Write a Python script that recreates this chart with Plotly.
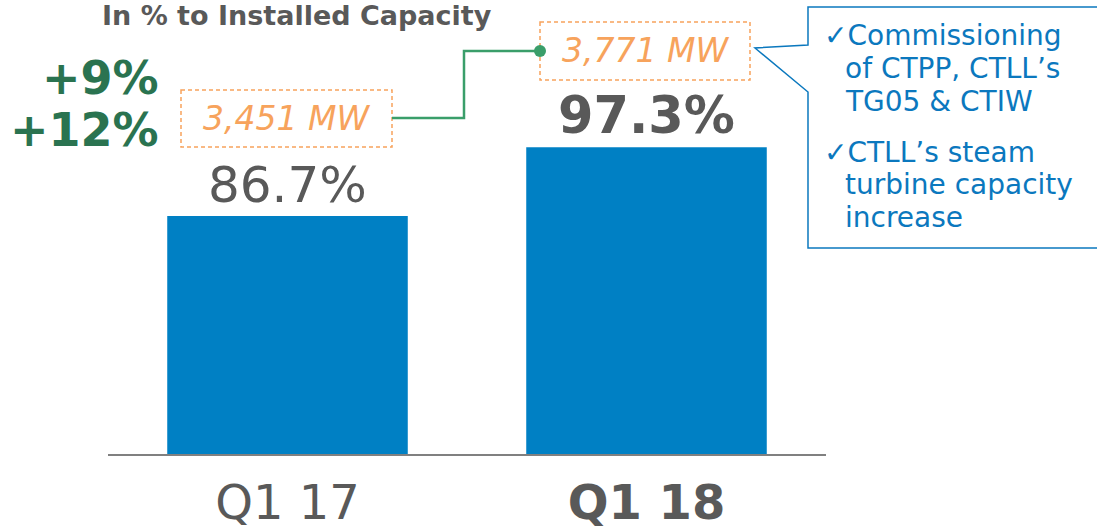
import plotly.graph_objects as go

# ---- data ----
categories = ["Q1 17", "Q1 18"]
tick_labels = ["Q1 17", "<b>Q1 18</b>"]
availability = [86.7, 97.3]
bar_labels = ["86.7%", "<b>97.3%</b>"]
capacity_labels = ["3,451 MW", "3,771 MW"]
growth_labels = ["+9%", "+12%"]
title_text = "In % to Installed Capacity"
callout_lines = [["\u2713Commissioning", "of CTPP, CTLL\u2019s", "TG05 & CTIW"],
                 ["\u2713CTLL\u2019s steam", "turbine capacity", "increase"]]

W, H = 1097, 530
AX_Y = 454                # axis line (px)
L = 108
R = W - 826
T = 0
B = H - AX_Y
PW, PH = W - L - R, H - T - B
UNIT = 6.486              # px per percentage point
Y0 = 50
Y1 = Y0 + PH / UNIT


def px(x):  # screen x -> paper
    return (x - L) / PW


def py(y):  # screen y -> paper
    return (AX_Y - y) / PH


FONT = "DejaVu Sans"
GRAY = "#595959"
BLUE = "#0080C4"
ORANGE = "#F7A35C"
GREEN_T = "#2A7350"
GREEN_L = "#3A9E6A"
CALL = "#0B78BE"

fig = go.Figure()
fig.add_trace(go.Bar(x=categories, y=availability, marker_color=BLUE,
                     marker_line_width=0, hoverinfo="skip"))

ann = []
shapes = []

# bar value labels
for c, v, t, s in zip(categories, availability, bar_labels, [50, 51]):
    ann.append(dict(x=c, y=v, xref="x", yref="y", text=t, showarrow=False,
                    yanchor="bottom", xanchor="center", yshift=0,
                    font=dict(family=FONT, size=s, color=GRAY)))

# title
ann.append(dict(x=px(297), y=py(15), xref="paper", yref="paper", text="<b>%s</b>" % title_text,
                showarrow=False, xanchor="center", yanchor="middle",
                font=dict(family=FONT, size=27, color=GRAY)))

# growth labels
for t, yy in zip(growth_labels, [78, 130]):
    ann.append(dict(x=px(161), y=py(yy), xref="paper", yref="paper", text="<b>%s</b>" % t,
                    showarrow=False, xanchor="right", yanchor="middle",
                    font=dict(family=FONT, size=46, color=GREEN_T)))

# capacity boxes
boxes = [(181, 90, 392, 147), (540, 22, 750, 80)]
for (x0, y0, x1, y1), t in zip(boxes, capacity_labels):
    shapes.append(dict(type="rect", xref="paper", yref="paper",
                       x0=px(x0), x1=px(x1), y0=py(y0), y1=py(y1),
                       line=dict(color=ORANGE, width=1.5, dash="4px,3px")))
    ann.append(dict(x=px((x0 + x1) / 2), y=py((y0 + y1) / 2), xref="paper", yref="paper",
                    text="<i>%s</i>" % t, showarrow=False, xanchor="center", yanchor="middle",
                    font=dict(family=FONT, size=33, color=ORANGE)))

# green connector
pts = [(392, 118), (464, 118), (464, 51), (540, 51)]
path = "M " + " L ".join("%f,%f" % (px(a), py(b)) for a, b in pts)
shapes.append(dict(type="path", xref="paper", yref="paper", path=path,
                   line=dict(color=GREEN_L, width=2.5)))
shapes.append(dict(type="circle", xref="paper", yref="paper",
                   x0=px(534), x1=px(546), y0=py(45), y1=py(57),
                   fillcolor=GREEN_L, line=dict(color=GREEN_L, width=0)))

# callout box
cpts = [(808, 7), (1100, 7), (1100, 248), (808, 248), (808, 92), (755, 48), (808, 45)]
cpath = "M " + " L ".join("%f,%f" % (px(a), py(b)) for a, b in cpts) + " Z"
shapes.append(dict(type="path", xref="paper", yref="paper", path=cpath,
                   fillcolor="white", line=dict(color=CALL, width=1.5)))

line_y = [[36, 69, 102], [152, 185, 218]]
for group, ys in zip(callout_lines, line_y):
    for k, (t, yy) in enumerate(zip(group, ys)):
        x0 = 822 if k == 0 else 843
        ann.append(dict(x=px(x0), y=py(yy), xref="paper", yref="paper", text=t,
                        showarrow=False, xanchor="left", yanchor="middle",
                        font=dict(family=FONT, size=28, color=CALL)))

fig.update_layout(
    width=W, height=H, margin=dict(l=L, r=R, t=T, b=B, autoexpand=False),
    paper_bgcolor="white", plot_bgcolor="white", showlegend=False,
    bargap=0.33, annotations=ann, shapes=shapes,
    xaxis=dict(tickmode="array", tickvals=categories, ticktext=tick_labels,
               tickfont=dict(family=FONT, size=48, color=GRAY),
               showline=True, linecolor="#808080", linewidth=1.5,
               showgrid=False, zeroline=False, ticks="", ticklabelstandoff=6),
    yaxis=dict(range=[Y0, Y1], visible=False, showgrid=False, zeroline=False),
)

fig.write_html("out.html", config={"displayModeBar": False},
               post_script="document.body.style.margin='0';document.body.style.overflow='hidden';")
